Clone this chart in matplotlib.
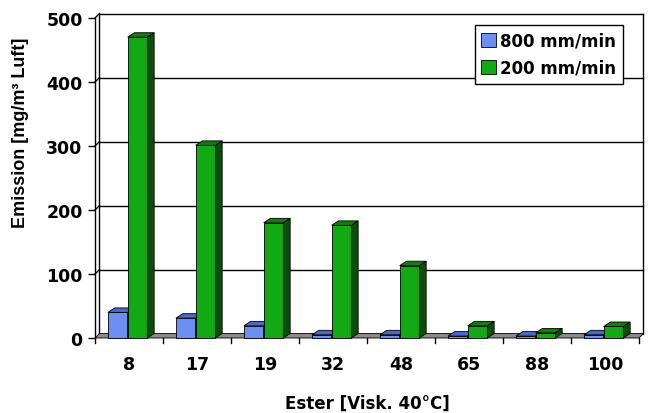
import matplotlib
matplotlib.use("Agg")
from matplotlib import pyplot as plt
from matplotlib.patches import Polygon, Rectangle
import numpy as np

categories = ["8", "17", "19", "32", "48", "65", "88", "100"]
fast = [40, 31, 19, 5, 5, 3, 3, 5]          # 800 mm/min
slow = [470, 301, 180, 176, 113, 19, 8, 18]  # 200 mm/min
series_names = ["800 mm/min", "200 mm/min"]
yticks = [0, 100, 200, 300, 400, 500]

plt.rcParams['font.family'] = ['DejaVu Sans']
plt.rcParams['font.weight'] = 'bold'

W, H = 649, 414
fig = plt.figure(figsize=(W/100, H/100), dpi=100)
# front plane of the plot: x 95..639 px, y 339..19 px
ax = fig.add_axes([95/W, 1-339/H, 544/W, 320/H])
ax.set_xlim(0, len(categories))
ax.set_ylim(0, 500)
for s in ax.spines.values():
	s.set_visible(False)

# depth offsets (data units)
dxw, dyw = 0.066, 7.0   # walls
dxb, dyb = 0.10, 7.0    # bars
n = len(categories)

# back wall gridlines + left wall diagonals
for v in yticks[1:]:
	ax.plot([dxw, n + dxw], [v + dyw, v + dyw], color='black', lw=1.0, clip_on=False, zorder=1)
	ax.plot([0, dxw], [v, v + dyw], color='black', lw=1.0, clip_on=False, zorder=1)
ax.plot([0, 0], [0, 500], color='black', lw=1.0, clip_on=False, zorder=1)
ax.plot([dxw, dxw], [dyw, 500 + dyw], color='black', lw=1.0, clip_on=False, zorder=1)
ax.plot([n + dxw, n + dxw], [dyw, 500 + dyw], color='black', lw=1.0, clip_on=False, zorder=1)

# floor
ax.add_patch(Polygon([[0, 0], [n, 0], [n + dxw, dyw], [dxw, dyw]], closed=True,
	facecolor='#8a8a8a', edgecolor='black', lw=0.6, clip_on=False, zorder=2))

def bar3d(x0, w, h, front, top, side):
	ax.add_patch(Rectangle((x0, 0), w, h, facecolor=front, edgecolor='black', lw=0.6, clip_on=False, zorder=3))
	ax.add_patch(Polygon([[x0, h], [x0 + w, h], [x0 + w + dxb, h + dyb], [x0 + dxb, h + dyb]], closed=True,
		facecolor=top, edgecolor='black', lw=0.6, clip_on=False, zorder=3))
	ax.add_patch(Polygon([[x0 + w, 0], [x0 + w + dxb, dyb], [x0 + w + dxb, h + dyb], [x0 + w, h]], closed=True,
		facecolor=side, edgecolor='black', lw=0.6, clip_on=False, zorder=3))

bw = 0.29
for i in range(n):
	bar3d(i + 0.19, bw, fast[i], '#6e8ff2', '#4a68cc', '#34509e')
	bar3d(i + 0.48, bw, slow[i], '#12aa12', '#0f800f', '#0b4d0b')

# ticks
ax.set_yticks(yticks)
ax.set_yticklabels([str(v) for v in yticks], fontsize=12.5, fontweight='bold')
ax.set_xticks(np.arange(n) + 0.5)
ax.set_xticklabels(categories, fontsize=12.5, fontweight='bold')
ax.tick_params(axis='x', length=0, pad=12)
ax.tick_params(axis='y', length=5, width=1, pad=4)
for k in range(n + 1):
	ax.plot([k, k], [0, -8], color='black', lw=1.0, clip_on=False, zorder=1)

ax.set_xlabel("Ester [Visk. 40°C]", fontsize=12, fontweight='bold', labelpad=15)
fig.text(21/W, 1-133/H, "Emission [mg/m³ Luft]", rotation=90, ha='center', va='center',
	fontsize=13, fontweight='bold', family=['Liberation Sans', 'DejaVu Sans'])

handles = [Rectangle((0, 0), 1, 1, facecolor='#6e8ff2', edgecolor='black', lw=0.6),
	Rectangle((0, 0), 1, 1, facecolor='#12aa12', edgecolor='black', lw=0.6)]
leg = fig.legend(handles, series_names, loc='upper right', bbox_to_anchor=(623/W, 1-26/H),
	prop={'size': 12, 'weight': 'bold'}, fancybox=False, edgecolor='black', framealpha=1,
	handlelength=0.9, handleheight=0.9, handletextpad=0.25, borderaxespad=0, borderpad=0.4,
	labelspacing=0.55)
leg.get_frame().set_linewidth(1.0)

fig.savefig("out.png", dpi=100)
